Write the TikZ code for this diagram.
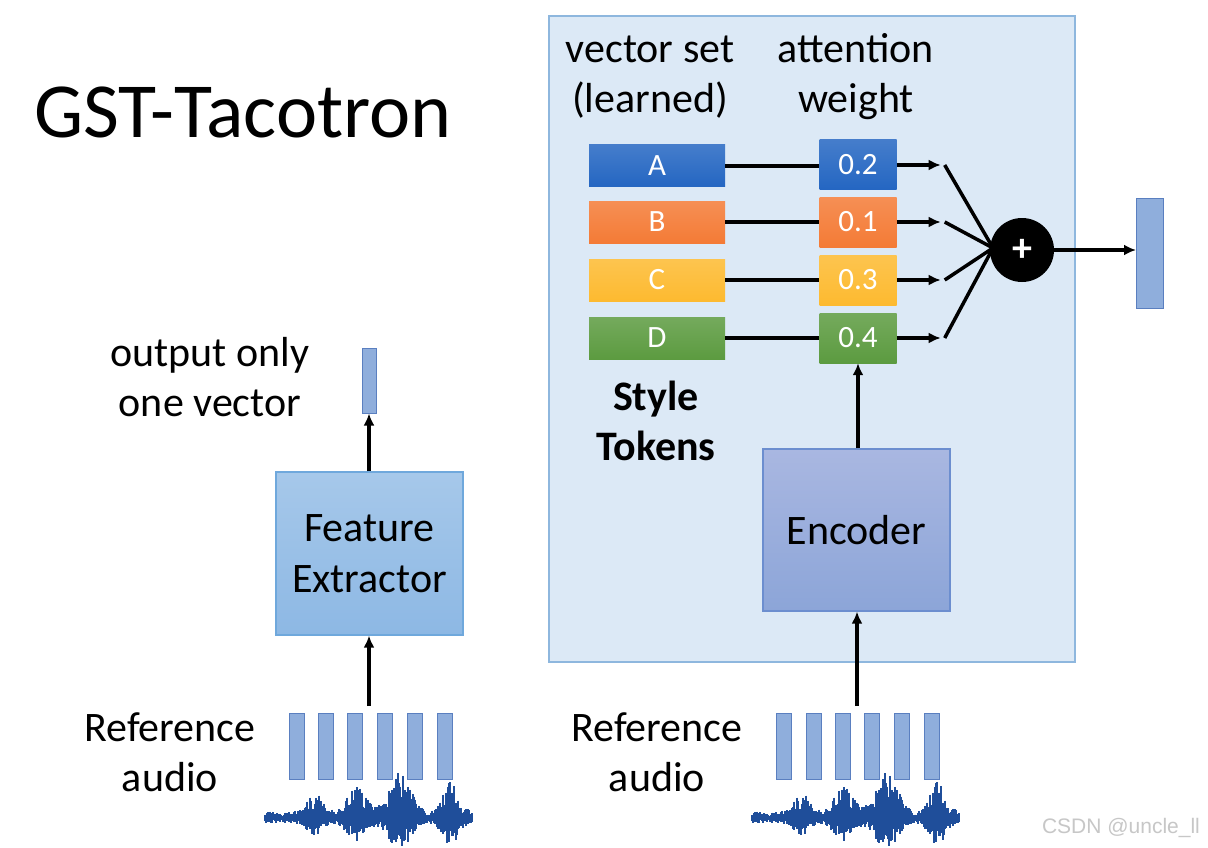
\documentclass[tikz,border=0pt]{standalone}
\usepackage{fontspec}
\setmainfont{Carlito}
\newfontfamily\wmfont{Liberation Sans}
\usetikzlibrary{calc,positioning,arrows.meta,shapes}

\definecolor{panelfill}{HTML}{DCE9F6}
\definecolor{panelline}{HTML}{8EB7DE}
\definecolor{tokA}{HTML}{2466C2}
\definecolor{tokB}{HTML}{F47B36}
\definecolor{tokC}{HTML}{FDBA30}
\definecolor{tokD}{HTML}{5C9B40}
\definecolor{framefill}{HTML}{8FAEDC}
\definecolor{frameline}{HTML}{5A7FC0}
\definecolor{fetop}{HTML}{A6C8EA}
\definecolor{febot}{HTML}{8DB8E4}
\definecolor{feline}{HTML}{6FA8DC}
\definecolor{enctop}{HTML}{A9B7E1}
\definecolor{encbot}{HTML}{8CA5D8}
\definecolor{encline}{HTML}{6C8ECF}
\definecolor{wavecol}{HTML}{1F4E9A}

% one gaussian bump of the sound envelope
\newcommand{\bump}[3]{#1*exp(max(-9,-((\i-#2)/#3)*((\i-#2)/#3)))}
% one burst of recorded sound, drawn as short vertical strokes
\newcommand{\audiowave}[2]{%
  \pgfmathsetseed{42}
  \draw[wavecol, line width=3pt] (#1,#2) -- ++(207,0);
  \foreach \i in {0,...,207}{
    \pgfmathsetmacro\env{7+\bump{18}{50}{10}+\bump{24}{92}{13}+\bump{40}{135}{14}+\bump{30}{185}{11}}
    \pgfmathsetmacro\up{\env*(0.3+0.7*rnd)}
    \pgfmathsetmacro\dn{0.75*\env*(0.3+0.7*rnd)}
    \draw[wavecol, line width=1.2pt] (#1+\i,#2-\up) -- (#1+\i,#2+\dn);
  }}

\begin{document}
\begin{tikzpicture}[x=1pt,y=-1pt,
  tok/.style={minimum width=136pt,minimum height=42pt,inner sep=0pt,text=white,font=\fontsize{31}{31}\selectfont},
  wgt/.style={minimum width=77pt,minimum height=50pt,inner sep=0pt,text=white,font=\fontsize{31}{31}\selectfont},
  frame/.style={draw=frameline,fill=framefill,line width=1pt,minimum width=15pt,minimum height=66pt,inner sep=0pt},
  lbl/.style={font=\fontsize{42}{50}\selectfont,align=center},
  arr/.style={-{Latex[length=12pt,width=11pt]},line width=3.5pt},
  link/.style={line width=3.5pt}]
\useasboundingbox (0,0) rectangle (1208,848);
\fill[white] (0,0) rectangle (1208,848);

\node[font=\fontsize{78}{80}\selectfont] (title) at (243,112) {GST-Tacotron};

% style token panel
\draw[panelline, fill=panelfill, line width=1.2pt] (549,16) rectangle (1075,662);
\node[lbl] (vset) at (650,77) {vector set\\(learned)};
\node[lbl] (attw) at (856,77) {attention\\weight};

\node[tok, top color=tokA!85!white, bottom color=tokA] (tA) at (657,166) {A};
\node[tok, top color=tokB!85!white, bottom color=tokB] (tB) at (657,222) {B};
\node[tok, top color=tokC!85!white, bottom color=tokC] (tC) at (657,280) {C};
\node[tok, top color=tokD!85!white, bottom color=tokD] (tD) at (657,338) {D};

\node[wgt, top color=tokA!85!white, bottom color=tokA] (wA) at (858,165) {0.2};
\node[wgt, top color=tokB!85!white, bottom color=tokB] (wB) at (858,222) {0.1};
\node[wgt, top color=tokC!85!white, bottom color=tokC] (wC) at (858,280) {0.3};
\node[wgt, top color=tokD!85!white, bottom color=tokD] (wD) at (858,338) {0.4};

\node[lbl, font=\fontsize{42}{50}\selectfont\bfseries] (stok) at (656,421) {Style\\Tokens};

\foreach \t in {A,B,C,D}{
  \draw[link] (t\t.east) -- (t\t.east -| w\t.west);
  \coordinate (p\t) at ($(w\t.east)+(44,0)$);
  \draw[arr] (w\t.east) -- (p\t);
}
\coordinate (hub) at (993,248);
\foreach \t in {A,B,C,D}
  \draw[link] ($(p\t)+(4,0)$) -- (hub);
\node[circle, fill=black, minimum size=64pt, inner sep=0pt, text=white, font=\fontsize{40}{40}\selectfont\bfseries] (plus) at (1022,250) {+};

\node[draw=frameline, fill=framefill, line width=1pt, minimum width=27pt, minimum height=110pt, inner sep=0pt] (outv) at (1150,253) {};
\draw[arr] (plus.east) -- (plus.east -| outv.west);

\node[draw=encline, line width=1.2pt, top color=enctop, bottom color=encbot, minimum width=187pt, minimum height=162pt, font=\fontsize{42}{50}\selectfont] (enc) at (856.5,530) {Encoder};
\draw[arr] (enc.north -| wD) -- (wD.south);

% reference audio, right
\node[lbl] (refr) at (657,752) {Reference\\audio};
\foreach \x [count=\i] in {784,814,843,872,902,932}
  \node[frame] (rf\i) at (\x,746) {};
\coordinate (encin) at (857,706);
\draw[arr] (encin) -- (encin |- enc.south);
\audiowave{752}{818}

% feature extractor, left
\node[draw=feline, line width=1.2pt, top color=fetop, bottom color=febot, minimum width=187pt, minimum height=163pt, font=\fontsize{42}{51}\selectfont, align=center] (fe) at (369.5,553.5) {Feature\\Extractor};
\node[frame, minimum width=14pt, minimum height=65pt] (outs) at (369,380.5) {};
\draw[arr] (fe.north -| outs) -- (outs.south);
\node[lbl] (onev) at (210,377) {output only\\one vector};

\node[lbl] (refl) at (170,752) {Reference\\audio};
\foreach \x [count=\i] in {297,326,355,385,415,445}
  \node[frame] (lf\i) at (\x,746) {};
\coordinate (fein) at (369,706);
\draw[arr] (fein) -- (fein |- fe.south);
\audiowave{265}{818}

\node[text=black!22, font=\wmfont\fontsize{21}{22}\selectfont] (wm) at (1121,828) {CSDN @uncle\_ll};
\end{tikzpicture}
\end{document}
